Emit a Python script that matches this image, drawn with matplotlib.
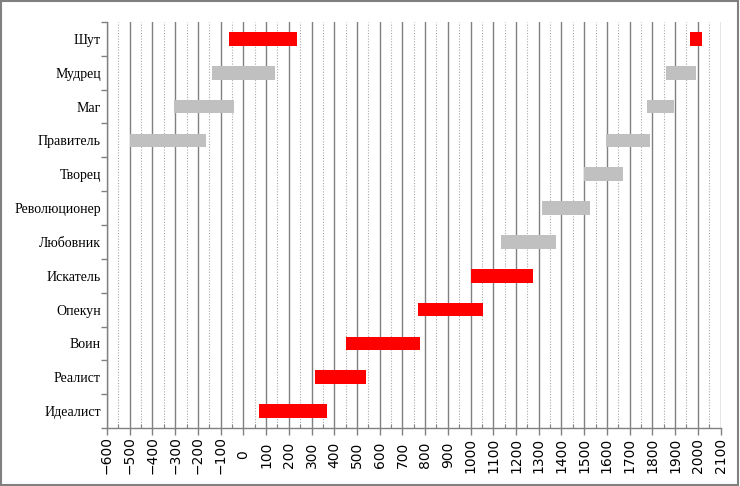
import matplotlib
matplotlib.use("Agg")
import matplotlib.pyplot as plt
from matplotlib.patches import Rectangle
from matplotlib.ticker import MultipleLocator, FixedLocator
import numpy as np

# Data (bottom to top)
categories = ["Идеалист", "Реалист", "Воин", "Опекун", "Искатель", "Любовник",
              "Революционер", "Творец", "Правитель", "Маг", "Мудрец", "Шут"]
start1 = [68, 315, 451, 769, 1001, 1134, 1315, 1500, -500, -306, -139, -63]
end1   = [368, 540, 777, 1055, 1275, 1377, 1526, 1672, -165, -42, 139, 234]
start2 = [None, None, None, None, None, None, None, None, 1598, 1777, 1861, 1967]
end2   = [None, None, None, None, None, None, None, None, 1791, 1896, 1993, 2020]
highlight = [True, True, True, True, True, False, False, False, False, False, False, True]
xticks = list(range(-600, 2101, 100))

RED = "#FF0000"
GRAY = "#C0C0C0"

fig = plt.figure(figsize=(7.4, 4.86), dpi=100)
ax = fig.add_axes([107/740, 1-428/486, (720.5-107)/740, (428-22)/486])

ypos = np.arange(len(categories))
colors = [RED if h else GRAY for h in highlight]
ax.barh(ypos, np.array(end1) - np.array(start1), left=start1, height=0.4,
        color=colors, zorder=3)
for y, s, e, c in zip(ypos, start2, end2, colors):
    if s is not None:
        ax.barh(y, e - s, left=s, height=0.4, color=c, zorder=3)

ax.set_xlim(-600, 2100)
ax.set_ylim(-0.5, len(categories) - 0.5)

# x grid
ax.xaxis.set_major_locator(FixedLocator(xticks))
ax.xaxis.set_minor_locator(MultipleLocator(50))
ax.set_xticklabels([str(v).replace("-", "\u2212") for v in xticks], rotation=90,
                   fontsize=10, family="DejaVu Sans", va="center")
ax.grid(axis="x", which="major", color="#808080", linewidth=1.0, zorder=0)
ax.grid(axis="x", which="minor", color="#A8A8A8", linewidth=0.8,
        linestyle=(0, (1, 1.5)), zorder=0)
ax.set_axisbelow(True)
ax.tick_params(axis="x", which="major", direction="out", length=5, width=1,
               color="#808080", pad=14.5)
ax.tick_params(axis="x", which="minor", direction="in", length=3, width=0.8,
               color="#808080")

# y ticks: marks at boundaries, labels at centers
ax.yaxis.set_major_locator(FixedLocator(np.arange(-0.5, len(categories), 1.0)))
ax.set_yticklabels([])
ax.yaxis.set_minor_locator(FixedLocator(ypos))
ax.set_yticklabels(categories, minor=True, fontsize=10, family="Liberation Serif")
ax.tick_params(axis="y", which="major", direction="out", length=4, width=1,
               color="#808080")
ax.tick_params(axis="y", which="minor", length=0, pad=4.5)

for side in ["top", "right"]:
    ax.spines[side].set_visible(False)
for side in ["left", "bottom"]:
    ax.spines[side].set_color("#808080")
    ax.spines[side].set_linewidth(1)

# outer frame
fig.patches.append(Rectangle((0.002, 0.003), 0.995, 0.994, transform=fig.transFigure,
                             fill=False, edgecolor="#808080", linewidth=1.5))

fig.savefig("out.png", dpi=100)
